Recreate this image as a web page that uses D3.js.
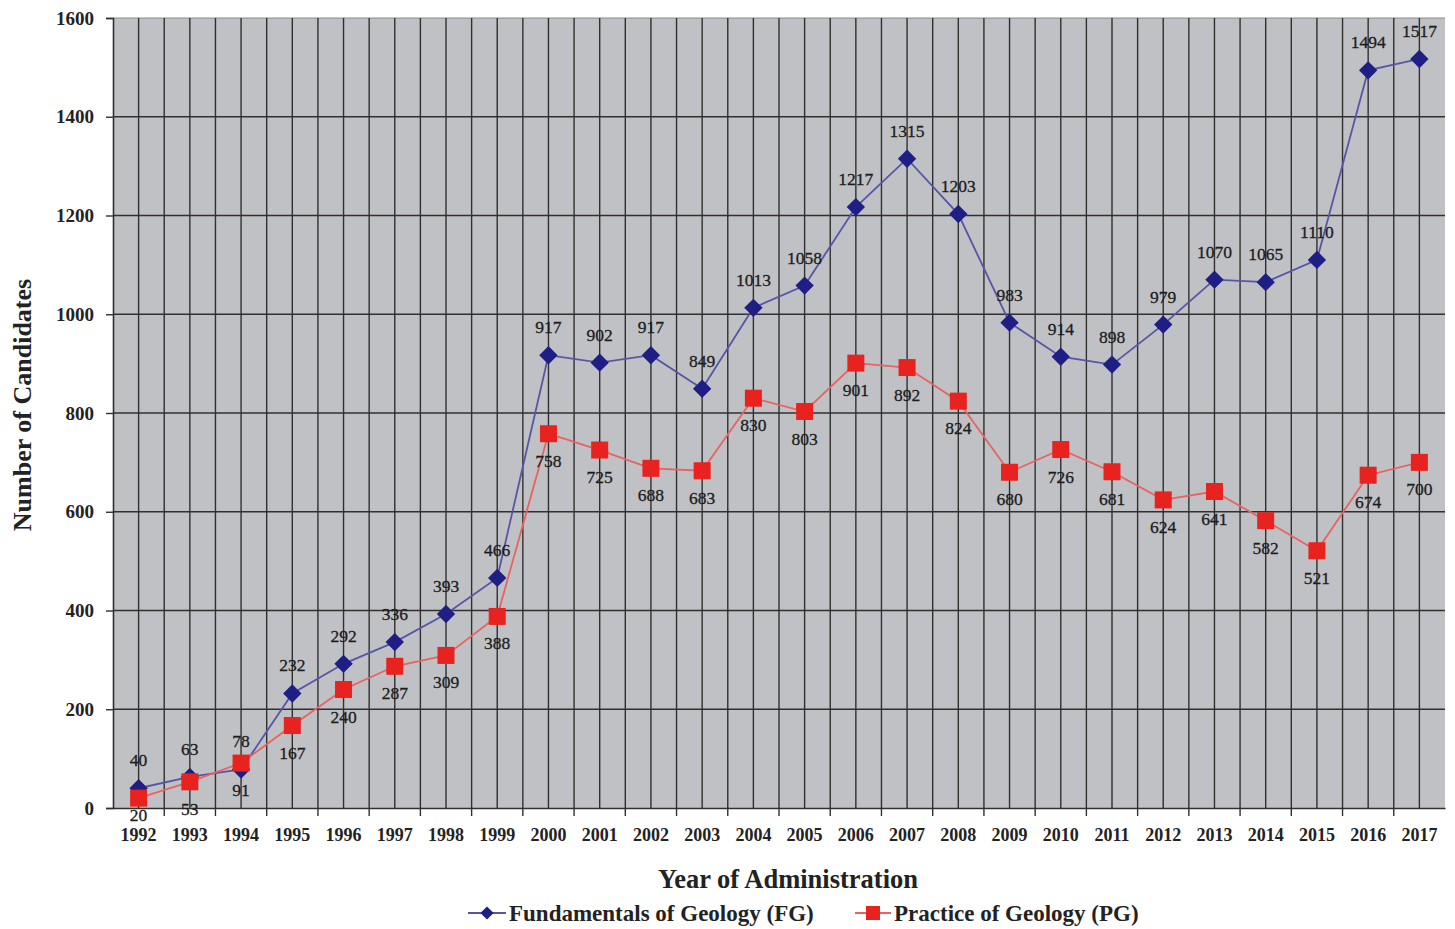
<!DOCTYPE html>
<html><head><meta charset="utf-8">
<script src="https://cdn.jsdelivr.net/npm/d3@7"></script>
<style>body{margin:0;background:#fff}svg{display:block}</style>
</head><body>
<svg id="c" width="1455" height="929"></svg>
<script>
const years = ["1992","1993","1994","1995","1996","1997","1998","1999","2000","2001","2002","2003","2004","2005","2006","2007","2008","2009","2010","2011","2012","2013","2014","2015","2016","2017"];
const fgValues = [40,63,78,232,292,336,393,466,917,902,917,849,1013,1058,1217,1315,1203,983,914,898,979,1070,1065,1110,1494,1517];
const pgValues = [20,53,91,167,240,287,309,388,758,725,688,683,830,803,901,892,824,680,726,681,624,641,582,521,674,700];
const yTicks = [0,200,400,600,800,1000,1200,1400,1600];
const seriesNames = ["Fundamentals of Geology (FG)","Practice of Geology (PG)"];

const svg = d3.select("#c");
const L=113, R=1445, T=18, B=808;
const x = d3.scaleBand().domain(years).range([L,R]);
const y = d3.scaleLinear().domain([0,1600]).range([B,T]);
const font = "'Liberation Serif', 'Times New Roman', serif";
const gridC = "#303030";

svg.append("rect").attr("x",L).attr("y",T).attr("width",R-L).attr("height",B-T).attr("fill","#c0c1c5");

// horizontal grid
svg.append("g").selectAll("line").data(yTicks.slice(1)).join("line")
  .attr("x1",L).attr("x2",R).attr("y1",d=>y(d)).attr("y2",d=>y(d))
  .attr("stroke",d=>d===1600?"#8a8a8e":gridC).attr("stroke-width",d=>d===1600?1:1.4);
// vertical grid: centers and boundaries
const vlines = [];
years.forEach((yr,i)=>{ vlines.push(x(yr)+x.bandwidth()/2); if(i>0) vlines.push(x(yr)); });
svg.append("g").selectAll("line").data(vlines).join("line")
  .attr("x1",d=>d).attr("x2",d=>d).attr("y1",T).attr("y2",B)
  .attr("stroke",gridC).attr("stroke-width",1.4);

// axes
const yAxis = svg.append("g").attr("transform",`translate(${L},0)`)
  .call(d3.axisLeft(y).tickValues(yTicks).tickFormat(d3.format("d")).tickSize(7).tickPadding(12));
yAxis.select(".domain").attr("stroke",gridC).attr("stroke-width",1.6);
yAxis.selectAll(".tick line").attr("stroke",gridC).attr("stroke-width",1.4);
yAxis.selectAll("text").attr("font-family",font).attr("font-size",19).attr("font-weight","bold").attr("fill","#222");

const xAxis = svg.append("g").attr("transform",`translate(0,${B})`)
  .call(d3.axisBottom(x).tickSize(0).tickPadding(20));
xAxis.select(".domain").attr("stroke",gridC).attr("stroke-width",1.6);
xAxis.selectAll("text").attr("font-family",font).attr("font-size",18).attr("font-weight","bold").attr("fill","#222");
// boundary tick marks
svg.append("g").selectAll("line").data(years.slice(1)).join("line")
  .attr("x1",d=>x(d)).attr("x2",d=>x(d)).attr("y1",B).attr("y2",B+8)
  .attr("stroke",gridC).attr("stroke-width",1.4);

const cx = d=>x(d)+x.bandwidth()/2;
const line = d3.line().x(d=>cx(d[0])).y(d=>y(d[1]));
const fg = years.map((d,i)=>[d,fgValues[i]]);
const pg = years.map((d,i)=>[d,pgValues[i]]);

svg.append("path").datum(fg).attr("d",line).attr("fill","none").attr("stroke","#5656a6").attr("stroke-width",1.8);
svg.append("path").datum(pg).attr("d",line).attr("fill","none").attr("stroke","#e86262").attr("stroke-width",1.8);

const diamond = d3.symbol().type(d3.symbolDiamond2).size(215);
svg.append("g").selectAll("path").data(fg).join("path")
  .attr("d",diamond).attr("transform",d=>`translate(${cx(d[0])},${y(d[1])})`)
  .attr("fill","#1e1e84");
svg.append("g").selectAll("rect").data(pg).join("rect")
  .attr("x",d=>cx(d[0])-8.5).attr("y",d=>y(d[1])-8.5).attr("width",17).attr("height",17)
  .attr("fill","#e8221e");

// data labels
svg.append("g").selectAll("text").data(fg).join("text")
  .attr("x",d=>cx(d[0])).attr("y",d=>y(d[1])-22).attr("text-anchor","middle")
  .attr("font-family",font).attr("font-size",17.5).attr("fill","#1c1c1c").attr("stroke","#1c1c1c").attr("stroke-width",0.3)
  .text(d=>d[1]);
svg.append("g").selectAll("text").data(pg).join("text")
  .attr("x",d=>cx(d[0])).attr("y",d=>Math.min(y(d[1])+33, B+13)).attr("text-anchor","middle")
  .attr("font-family",font).attr("font-size",17.5).attr("fill","#1c1c1c").attr("stroke","#1c1c1c").attr("stroke-width",0.3)
  .text(d=>d[1]);

// titles
svg.append("text").attr("transform","translate(31,405) rotate(-90)").attr("text-anchor","middle")
  .attr("font-family",font).attr("font-size",26).attr("font-weight","bold").attr("fill","#222")
  .text("Number of Candidates");
svg.append("text").attr("x",788).attr("y",888).attr("text-anchor","middle")
  .attr("font-family",font).attr("font-size",26.5).attr("font-weight","bold").attr("fill","#222")
  .text("Year of Administration");

// legend
const lg = svg.append("g");
lg.append("line").attr("x1",468).attr("x2",506).attr("y1",913).attr("y2",913).attr("stroke","#5656a6").attr("stroke-width",2);
lg.append("path").attr("d",d3.symbol().type(d3.symbolDiamond2).size(110)).attr("transform","translate(487,913)").attr("fill","#1e1e84");
lg.append("text").attr("x",509).attr("y",921).attr("font-family",font).attr("font-size",23).attr("font-weight","bold").attr("fill","#222").text(seriesNames[0]);
lg.append("line").attr("x1",855).attr("x2",891).attr("y1",913).attr("y2",913).attr("stroke","#e86262").attr("stroke-width",2);
lg.append("rect").attr("x",866).attr("y",906).attr("width",14).attr("height",14).attr("fill","#e8221e");
lg.append("text").attr("x",894).attr("y",921).attr("font-family",font).attr("font-size",23).attr("font-weight","bold").attr("fill","#222").text(seriesNames[1]);
</script>
</body></html>
